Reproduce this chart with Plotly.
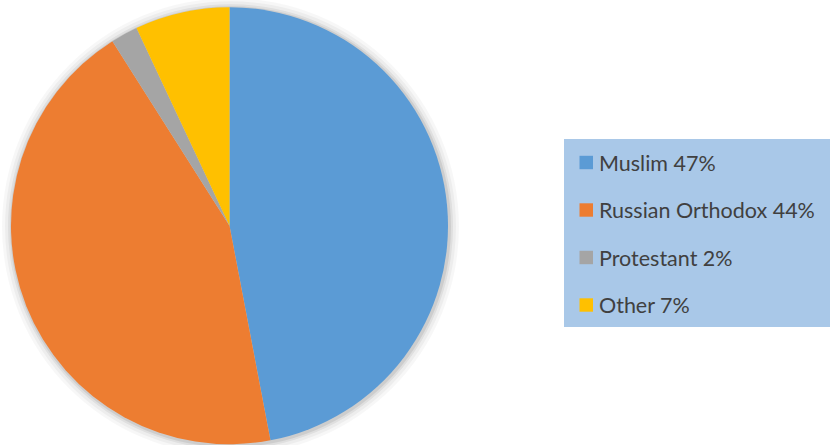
import plotly.graph_objects as go

labels = ["Muslim", "Russian Orthodox", "Protestant", "Other"]
values = [47, 44, 2, 7]
colors = ["#5b9bd5", "#ed7d31", "#a5a5a5", "#ffc000"]

W, H = 830, 445

def px(x):
    return x / W

def py(y):
    return 1 - y / H

fig = go.Figure()

# pie geometry (pixels)
cx, cy, r = 229.5, 225.7, 218.5

# soft shadow around the pie
shadow_layers = [(10, 0.03), (7, 0.04), (4, 0.06), (2, 0.08)]
for grow, op in shadow_layers:
    fig.add_shape(type="circle", xref="paper", yref="paper",
                  x0=px(cx - r - grow + 1), x1=px(cx + r + grow + 1),
                  y0=py(cy + r + grow + 1), y1=py(cy - r - grow + 1),
                  fillcolor="rgba(0,0,0,1)", opacity=op, line_width=0, layer="below")

fig.add_trace(go.Pie(
    labels=labels, values=values, sort=False, direction="clockwise", rotation=0,
    marker=dict(colors=colors, line=dict(width=0)),
    textinfo="none", hoverinfo="label+percent", showlegend=False,
    domain=dict(x=[px(cx - r), px(cx + r)], y=[py(cy + r), py(cy - r)]),
))

# legend box
fig.add_shape(type="rect", xref="paper", yref="paper",
              x0=px(564), x1=px(830), y0=py(327), y1=py(139),
              fillcolor="#a9c8e8", line_width=0, layer="below")

row_y = [162.5, 210, 257.5, 305]
for lab, val, col, yy in zip(labels, values, colors, row_y):
    fig.add_shape(type="rect", xref="paper", yref="paper",
                  x0=px(579.5), x1=px(593), y0=py(yy + 6.7), y1=py(yy - 6.7),
                  fillcolor=col, line_width=0)
    fig.add_annotation(x=px(597), y=py(yy), xref="paper", yref="paper",
                       text=f"{lab} {val}%", showarrow=False,
                       xanchor="left", yanchor="middle",
                       font=dict(family="Lato", size=21.5, color="#404040"))

fig.update_layout(width=W, height=H, margin=dict(l=0, r=0, t=0, b=0),
                  paper_bgcolor="white", plot_bgcolor="white")

fig.write_html("out.html")
